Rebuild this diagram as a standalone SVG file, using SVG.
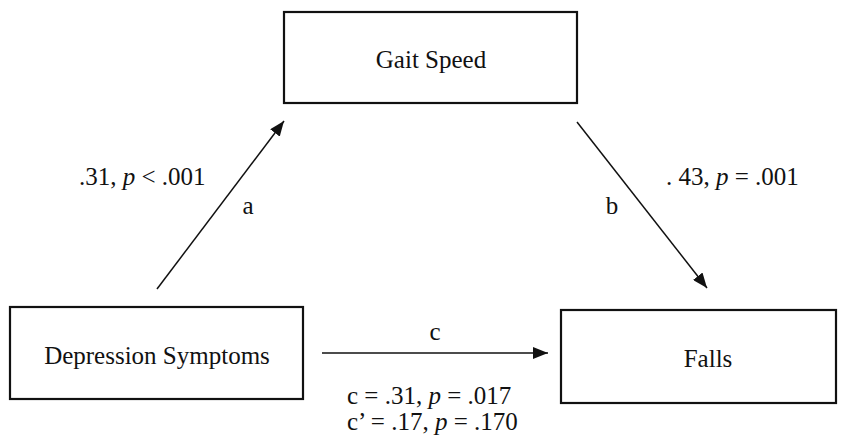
<svg xmlns="http://www.w3.org/2000/svg" width="842" height="438" viewBox="0 0 842 438">
<style>
.box{fill:#fff;stroke:#111;stroke-width:2.2}
.t{font-family:"Liberation Serif","Times New Roman",serif;font-size:25px;fill:#111}
.m{text-anchor:middle}
.e{stroke:#111;stroke-width:1.5;fill:none}
</style>
<defs>
<marker id="ah" markerUnits="userSpaceOnUse" markerWidth="16" markerHeight="12" refX="15" refY="6" orient="auto">
<path d="M0,0 L15,6 L0,12 z" fill="#111"/>
</marker>
</defs>
<rect width="842" height="438" fill="#fff"/>
<g id="gait">
<rect class="box" x="284" y="12" width="293" height="91"/>
<text class="t m" x="431" y="68">Gait Speed</text>
</g>
<g id="depression">
<rect class="box" x="10" y="307" width="293" height="92"/>
<text class="t m" x="157" y="364">Depression Symptoms</text>
</g>
<g id="falls">
<rect class="box" x="561" y="310" width="275" height="93"/>
<text class="t m" x="708" y="367">Falls</text>
</g>
<g id="connectors">
<line class="e" x1="157" y1="289" x2="284" y2="121" marker-end="url(#ah)"/>
<line class="e" x1="577" y1="122" x2="707" y2="288" marker-end="url(#ah)"/>
<line class="e" x1="322" y1="353" x2="548" y2="353" marker-end="url(#ah)"/>
</g>
<g id="labels">
<text class="t" x="79" y="185">.31, <tspan font-style="italic">p</tspan> &lt; .001</text>
<text class="t m" x="248" y="214">a</text>
<text class="t" x="666" y="185">. 43, <tspan font-style="italic">p</tspan> = .001</text>
<text class="t m" x="612" y="214">b</text>
<text class="t m" x="435" y="340">c</text>
<text class="t" x="347" y="404">c = .31, <tspan font-style="italic">p</tspan> = .017</text>
<text class="t" x="347" y="430">c’ = .17, <tspan font-style="italic">p</tspan> = .170</text>
</g>
</svg>
